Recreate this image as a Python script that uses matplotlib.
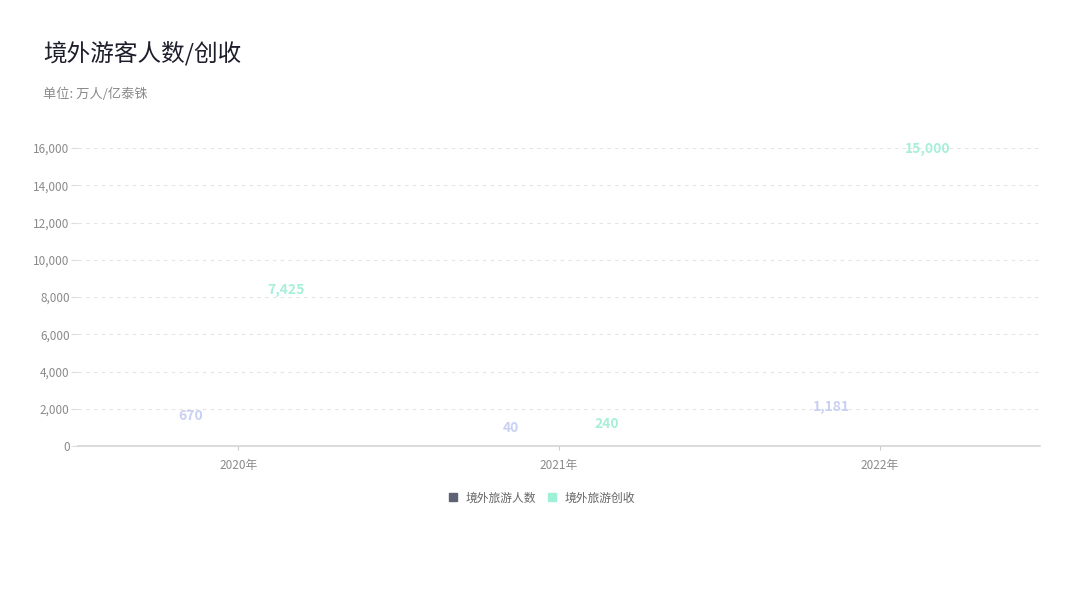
import numpy as np
import matplotlib
matplotlib.use('Agg')
import matplotlib.pyplot as plt
from matplotlib.lines import Line2D

plt.rcParams['font.family'] = ['Noto Sans CJK SC', 'DejaVu Sans']

years = ['2020年', '2021年', '2022年']
visitors = [670, 40, 1181]
revenue = [7425, 240, 15000]
series_names = ['境外旅游人数', '境外旅游创收']
yticks = [0, 2000, 4000, 6000, 8000, 10000, 12000, 14000, 16000]

LEGEND_COLORS = ['#5d6275', '#9ef0d6']
LABEL_COLORS = ['#c9d0f3', '#a6efd8']

fig = plt.figure(figsize=(10.79, 6.08), dpi=100)
ax = fig.add_axes([78 / 1079, 1 - 446 / 608, (1040 - 78) / 1079, (446 - 148) / 608])

x = np.arange(len(years))
off = 0.15
# bars are not drawn in the reference (zero-height), only their value labels
for vals, dx, col in [(visitors, -off, LABEL_COLORS[0]), (revenue, off, LABEL_COLORS[1])]:
    ax.bar(x + dx, vals, width=0.2, alpha=0)
    for xi, v in zip(x + dx, vals):
        ax.annotate(f'{v:,}', (xi, v), textcoords='offset points', xytext=(0, 12.5),
                    ha='center', va='center', fontsize=10, fontweight='bold', color=col)

ax.set_xlim(-0.5, 2.5)
ax.set_ylim(0, 16000)
ax.set_yticks(yticks)
ax.set_yticklabels([f'{t:,}' for t in yticks])
ax.set_xticks(x)
ax.set_xticklabels(years)
ax.tick_params(axis='y', length=5, color='#dddddd', labelcolor='#8a8a8a', labelsize=8.5, pad=1)
ax.tick_params(axis='x', length=3, color='#cccccc', labelcolor='#8a8a8a', labelsize=8.5, pad=6)
ax.grid(axis='y', color='#e4e4e4', linestyle=(0, (3, 4)), linewidth=0.8)
ax.set_axisbelow(True)
for s in ['top', 'right', 'left']:
    ax.spines[s].set_visible(False)
ax.spines['bottom'].set_color('#d4d4d4')
ax.spines['bottom'].set_linewidth(1.2)

fig.text(43 / 1079, 1 - 53 / 608, '境外游客人数/创收', fontsize=17, color='#1d1d2b', va='center',
         fontweight='medium')
fig.text(43 / 1079, 1 - 94 / 608, '单位: 万人/亿泰铢', fontsize=9.5, color='#8a8a8a', va='center')

handles = [Line2D([], [], marker='s', linestyle='none', markersize=6, color=c) for c in LEGEND_COLORS]
fig.legend(handles, series_names, loc='center', bbox_to_anchor=(538 / 1079, 1 - 498 / 608),
           ncol=2, frameon=False, fontsize=8.5, labelcolor='#666666', handletextpad=0.1,
           columnspacing=0.3)

fig.savefig('out.png', dpi=100)
